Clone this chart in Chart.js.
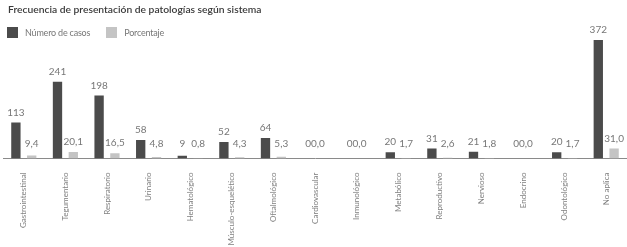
<!DOCTYPE html>
<html lang="es">
<head>
<meta charset="utf-8">
<script src="https://cdn.jsdelivr.net/npm/chart.js@4"></script>
<style>
  body { margin: 0; background: #fff; font-family: Lato, 'Open Sans', sans-serif; }
  #wrap { position: relative; width: 627px; height: 247px; overflow: hidden; }
  #title { position: absolute; left: 8px; top: 3px; font-size: 10.3px; font-weight: 600; color: #3a3a3a; white-space: nowrap; }
  #legend { position: absolute; left: 7px; top: 27px; font-size: 9px; letter-spacing: -0.2px; color: #777; display: flex; align-items: center; }
  #legend span.box { display: inline-block; width: 11px; height: 11px; margin-right: 7px; }
  #legend span.item { display: flex; align-items: center; margin-right: 16px; }
  #chartBox { position: absolute; left: 0; top: 0; width: 627px; height: 247px; }
</style>
</head>
<body>
<div id="wrap">
  <div id="chartBox"><canvas id="sysChart" width="627" height="247"></canvas></div>
  <div id="title">Frecuencia de presentación de patologías según sistema</div>
  <div id="legend"></div>
</div>
<script>
const categories = ['Gastrointestinal', 'Tegumentario', 'Respiratorio', 'Urinario', 'Hematológico',
    'Músculo-esquelético', 'Oftalmológico', 'Cardiovascular', 'Inmunológico', 'Metabólico',
    'Reproductivo', 'Nervioso', 'Endocrino', 'Odontológico', 'No aplica'];
const casos = [113, 241, 198, 58, 9, 52, 64, 0, 0, 20, 31, 21, 0, 20, 372];
const porcentaje = [9.4, 20.1, 16.5, 4.8, 0.8, 4.3, 5.3, 0, 0, 1.7, 2.6, 1.8, 0, 1.7, 31.0];
const seriesNames = ['Número de casos', 'Porcentaje'];
const seriesColors = ['#4b4b4b', '#c4c4c4']; // dark gray, light gray

const fmtCasos = (v) => String(v);
const fmtPct = (v) => v.toFixed(1).replace('.', ',');

// legend in html
const legendEl = document.getElementById('legend');
seriesNames.forEach((name, i) => {
    const item = document.createElement('span');
    item.className = 'item';
    item.innerHTML = '<span class="box" style="background:' + seriesColors[i] + '"></span>' + name;
    legendEl.appendChild(item);
});

// draws the value above each bar; zero pairs are drawn together like "00,0"
const valueLabels = {
    id: 'valueLabels',
    afterDatasetsDraw(chart) {
        const ctx = chart.ctx;
        const m0 = chart.getDatasetMeta(0);
        const m1 = chart.getDatasetMeta(1);
        ctx.save();
        ctx.font = '10px Lato, "Open Sans", sans-serif';
        ctx.fillStyle = '#777';
        ctx.textBaseline = 'bottom';
        ctx.textAlign = 'center';
        const yMaxLbl = chart.chartArea.bottom - 9.5;
        categories.forEach((c, i) => {
            const b0 = m0.data[i], b1 = m1.data[i];
            const t0 = fmtCasos(casos[i]), t1 = fmtPct(porcentaje[i]);
            if (casos[i] === 0 && porcentaje[i] === 0) {
                ctx.fillText(t0 + t1, (b0.x + b1.x) / 2, yMaxLbl);
                return;
            }
            ctx.fillText(t0, b0.x, Math.min(b0.y - 5, yMaxLbl));
            ctx.fillText(t1, b1.x, Math.min(b1.y - 5, yMaxLbl));
        });
        ctx.restore();
    }
};

function initChart() {
    const ctx = document.getElementById('sysChart').getContext('2d');
    new Chart(ctx, {
        type: 'bar',
        data: {
            labels: categories,
            datasets: [
                { label: seriesNames[0], data: casos, backgroundColor: seriesColors[0] },
                { label: seriesNames[1], data: porcentaje, backgroundColor: seriesColors[1] }
            ]
        },
        options: {
            responsive: false,
            animation: false,
            events: [],
            layout: { padding: { left: 3, right: 0, top: 31, bottom: 0 } },
            datasets: { bar: { categoryPercentage: 0.76, barPercentage: 0.59 } },
            plugins: { legend: { display: false }, tooltip: { enabled: false } },
            scales: {
                x: {
                    grid: { display: false },
                    border: { display: true, color: '#8a8a8a', width: 1 },
                    ticks: {
                        minRotation: 90, maxRotation: 90, autoSkip: false, padding: 6,
                        color: '#808080',
                        font: { family: 'Lato, "Open Sans", sans-serif', size: 8 }
                    },
                    afterFit(scale) { scale.height = 88.5; }
                },
                y: { display: false, min: 0, max: 400 }
            }
        },
        plugins: [valueLabels]
    });
}

document.addEventListener('DOMContentLoaded', initChart);
</script>
</body>
</html>
